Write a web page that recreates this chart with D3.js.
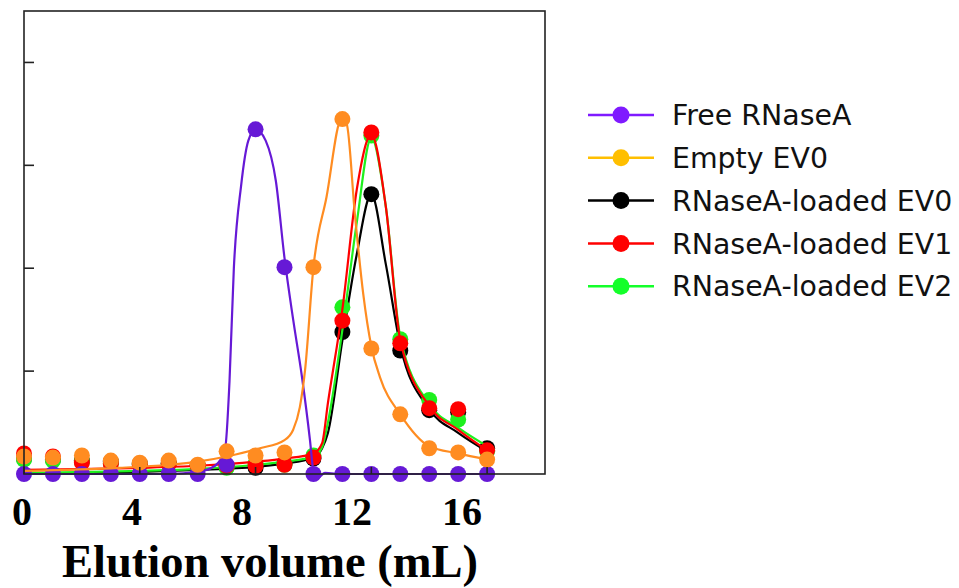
<!DOCTYPE html>
<html>
<head>
<meta charset="utf-8">
<script src="https://cdn.jsdelivr.net/npm/d3@7"></script>
<style>
  body { margin: 0; background: #fff; }
</style>
</head>
<body>
<div id="chart"></div>
<script>
// elution fractions (mL)
var volumes = [0, 1, 2, 3, 4, 5, 6, 7, 8, 9, 10, 11, 12, 13, 14, 15, 16];
var xTicks = [0, 4, 8, 12, 16];
var yTicks = [1, 2, 3, 4];

// measured points
var freeRNase = [0, 0, 0, 0, 0, 0, 0, 0.09, 3.35, 2.01, 0, 0, 0, 0, 0, 0, 0];
var emptyEV0  = [0.17, 0.16, 0.18, 0.13, 0.11, 0.13, 0.09, 0.22, 0.18, 0.21, 2.01, 3.45, 1.22, 0.58, 0.25, 0.21, 0.14];
var loadedEV0 = [0.15, 0.14, 0.13, 0.12, 0.10, 0.10, 0.08, 0.07, 0.06, 0.10, 0.15, 1.38, 2.72, 1.20, 0.62, 0.60, 0.25];
var loadedEV1 = [0.20, 0.17, 0.11, 0.10, 0.09, 0.10, 0.08, 0.08, 0.08, 0.09, 0.16, 1.49, 3.32, 1.27, 0.64, 0.63, 0.23];
var loadedEV2 = [0.14, 0.13, 0.12, 0.10, 0.09, 0.10, 0.08, 0.06, 0.10, 0.09, 0.18, 1.62, 3.29, 1.31, 0.72, 0.53, 0.22];

// smoothed curves, [volume, value]
var freeFit = [[0,0],[5,0],[6,0.02],[6.6,0.08],[6.95,0.25],[7.1,0.9],[7.25,2.0],[7.5,2.8],[7.75,3.24],[8,3.35],
  [8.35,3.24],[8.7,2.85],[9,2.1],[9.3,1.5],[9.6,0.95],[9.88,0.33],[10,0.02],[10.1,-0.05],[10.4,0.01],[11,0],[16,0]];
var emptyFit = [[0,0.03],[3.3,0.06],[5,0.09],[6,0.12],[7,0.17],[8.15,0.25],[9,0.33],[9.3,0.43],[9.53,0.65],[9.71,1.01],
  [10,2.01],[10.45,2.69],[10.97,3.45],[11.15,3.4],[11.43,2.53],[11.72,1.75],[12,1.24],[12.3,0.94],[13,0.58],[14,0.27],[15,0.2],[16,0.14]];
var ev0Fit = [[0,0],[4,0.02],[6,0.04],[8,0.07],[9,0.1],[10,0.16],[10.3,0.25],[10.5,0.4],[11,1.3],[11.5,2.14],[12,2.72],
  [12.5,2.04],[13,1.25],[14,0.63],[15,0.4],[16,0.22]];
var ev1Fit = [[0,0.04],[4,0.06],[6,0.08],[8,0.12],[9,0.15],[10,0.2],[10.3,0.3],[10.5,0.69],[11,1.6],[11.5,2.77],[12,3.3],
  [12.5,2.6],[13,1.3],[14,0.66],[15,0.43],[16,0.23]];
var ev2Fit = [[0,0.01],[4,0.03],[6,0.05],[8,0.09],[9,0.12],[10,0.17],[10.3,0.26],[10.5,0.5],[11,1.4],[11.5,2.45],[12,3.27],
  [12.5,2.6],[13,1.33],[14,0.68],[15,0.45],[16,0.27]];

var seriesNames = ["Free RNaseA", "Empty EV0", "RNaseA-loaded EV0", "RNaseA-loaded EV1", "RNaseA-loaded EV2"];
var plotColors = ["#6619d6", "#ff8c21", "#000000", "#ff0000", "#1ef01e"];
var legendColors = ["#7f1aff", "#ffbf00", "#000000", "#ff0000", "#14ff2a"];

var series = [
  { name: seriesNames[0], dots: freeRNase, fit: freeFit, color: plotColors[0], legend: legendColors[0] },
  { name: seriesNames[1], dots: emptyEV0, fit: emptyFit, color: plotColors[1], legend: legendColors[1] },
  { name: seriesNames[2], dots: loadedEV0, fit: ev0Fit, color: plotColors[2], legend: legendColors[2] },
  { name: seriesNames[3], dots: loadedEV1, fit: ev1Fit, color: plotColors[3], legend: legendColors[3] },
  { name: seriesNames[4], dots: loadedEV2, fit: ev2Fit, color: plotColors[4], legend: legendColors[4] }
];
// stacking order seen in the figure
var drawOrder = [2, 4, 3, 0, 1];

var width = 959, height = 588;
var svg = d3.select("#chart").append("svg")
  .attr("width", width)
  .attr("height", height);

var x = d3.scaleLinear().domain([0, 18]).range([24, 545]);
var y = d3.scaleLinear().domain([0, 4.5]).range([474, 11]);
// tick labels sit slightly compressed under the axis in the original
var xLabel = d3.scaleLinear().domain([0, 16]).range([22, 462]);

var line = d3.line()
  .x(function(d){ return x(d[0]); })
  .y(function(d){ return y(d[1]); })
  .curve(d3.curveMonotoneX);

drawOrder.forEach(function(i) {
  var s = series[i];
  svg.append("path")
    .attr("d", line(s.fit))
    .attr("fill", "none")
    .attr("stroke", s.color)
    .attr("stroke-width", 2.2);
  svg.selectAll(null)
    .data(s.dots)
    .enter()
    .append("circle")
      .attr("cx", function(d, j){ return x(volumes[j]); })
      .attr("cy", function(d){ return y(d); })
      .attr("r", 8)
      .style("fill", s.color);
});

// frame
svg.append("rect")
  .attr("x", x(0)).attr("y", y(4.5))
  .attr("width", x(18) - x(0)).attr("height", y(0) - y(4.5))
  .attr("fill", "none")
  .attr("stroke", "#222")
  .attr("stroke-width", 1.6);

// inward ticks
svg.selectAll("ytick")
  .data(yTicks)
  .enter()
  .append("line")
    .attr("x1", x(0)).attr("x2", x(0) + 10)
    .attr("y1", function(d){ return y(d); })
    .attr("y2", function(d){ return y(d); })
    .attr("stroke", "#222")
    .attr("stroke-width", 1.6);
svg.selectAll("xtick")
  .data(xTicks)
  .enter()
  .append("line")
    .attr("x1", function(d){ return x(d); })
    .attr("x2", function(d){ return x(d); })
    .attr("y1", y(0)).attr("y2", y(0) - 7)
    .attr("stroke", "#222")
    .attr("stroke-width", 1.6);

svg.selectAll("xlabel")
  .data(xTicks)
  .enter()
  .append("text")
    .attr("x", function(d){ return xLabel(d); })
    .attr("y", 525)
    .attr("text-anchor", "middle")
    .style("font-family", "'Liberation Serif', 'Times New Roman', serif")
    .style("font-weight", "bold")
    .style("font-size", "40px")
    .text(function(d){ return d; });

svg.append("text")
  .attr("x", 270)
  .attr("y", 577)
  .attr("text-anchor", "middle")
  .style("font-family", "'Liberation Serif', 'Times New Roman', serif")
  .style("font-weight", "bold")
  .style("font-size", "46.5px")
  .text("Elution volume (mL)");

// legend
var legend = svg.selectAll("legend")
  .data(series)
  .enter()
  .append("g")
    .attr("transform", function(d, i){ return "translate(0," + (115 + i * 42.8) + ")"; });
legend.append("line")
  .attr("x1", 588).attr("x2", 654)
  .attr("stroke", function(d){ return d.legend; })
  .attr("stroke-width", 2.5);
legend.append("circle")
  .attr("cx", 621).attr("r", 8.5)
  .style("fill", function(d){ return d.legend; });
legend.append("text")
  .attr("x", 672)
  .attr("dy", "0.36em")
  .style("font-family", "'DejaVu Sans', Verdana, sans-serif")
  .style("font-size", "28.4px")
  .style("fill", "#111")
  .text(function(d){ return d.name; });
</script>
</body>
</html>
